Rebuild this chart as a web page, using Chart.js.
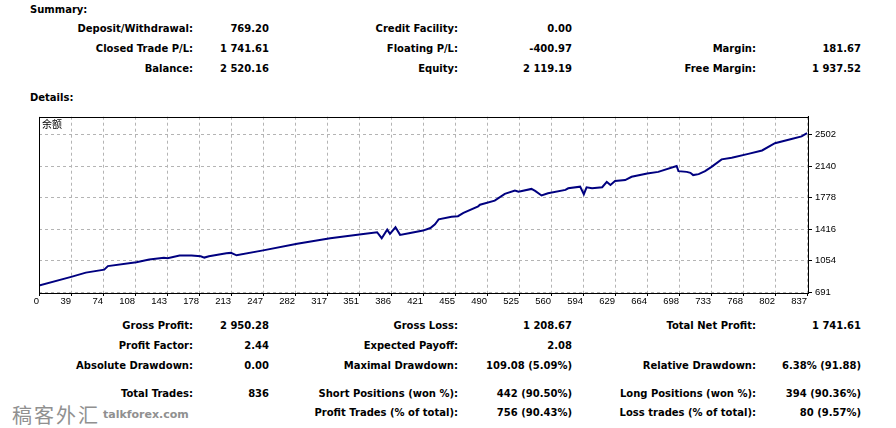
<!DOCTYPE html>
<html>
<head>
<meta charset="utf-8">
<script src="https://cdn.jsdelivr.net/npm/chart.js@4.4.0/dist/chart.umd.min.js"></script>
<style>
  html, body { margin: 0; padding: 0; background: #fff; }
  body { width: 896px; height: 428px; position: relative; overflow: hidden;
         font: bold 10px "DejaVu Sans", sans-serif; color: #000; }
  .r { position: absolute; width: 240px; text-align: right; white-space: nowrap; line-height: 14px; }
  .h { position: absolute; left: 30px; line-height: 14px; white-space: nowrap; }
  #wrap { position: absolute; left: 0; top: 108px; width: 896px; height: 200px; }
  #tag { position: absolute; left: 42px; top: 116px; font: normal 10px "Noto Sans CJK SC", sans-serif; }
  #wm { position: absolute; left: 12px; top: 400px; white-space: nowrap; color: #909090; }
  #wm .cn { font: normal 20px "Noto Sans CJK SC", sans-serif; letter-spacing: 2px; vertical-align: middle; }
  #wm .en { font: bold 11px "DejaVu Sans", sans-serif; vertical-align: middle; margin-left: 3px; }
</style>
</head>
<body>
<div class="h" style="top:3px">Summary:</div>
<div class="h" style="top:91px">Details:</div>

<div id="wrap"><canvas id="balanceChart" width="896" height="200"></canvas></div>
<div id="tag">余额</div>

<div id="wm"><span class="cn">稿客外汇</span><span class="en">talkforex.com</span></div>

<script>
// balance curve (trade number -> balance)
const tradeNo = [0, 35, 51, 71, 75, 106, 120, 136, 140, 153, 166, 176, 180, 185, 204,
  209, 215, 244, 281, 317, 353, 368, 373, 379, 382, 388, 393, 404, 418, 426,
  431, 435, 449, 456, 462, 478, 480, 496, 507, 518, 522, 536, 540, 547, 554,
  573, 576, 589, 593, 596, 602, 613, 618, 622, 627, 638, 645, 662, 674, 694,
  696, 705, 709, 712, 718, 725, 732, 743, 754, 772, 787, 801, 819, 830, 836];
const balance = [769, 868, 917, 951, 992, 1037, 1068, 1087, 1083, 1113, 1113, 1105, 1090, 1105, 1139,
  1144, 1116, 1173, 1249, 1313, 1362, 1381, 1313, 1411, 1362, 1438, 1351, 1373, 1400, 1430,
  1472, 1529, 1558, 1566, 1603, 1679, 1698, 1744, 1823, 1860, 1846, 1879, 1857, 1804, 1830,
  1868, 1886, 1905, 1818, 1898, 1886, 1898, 1959, 1925, 1970, 1981, 2019, 2056, 2075, 2143,
  2083, 2075, 2064, 2038, 2049, 2083, 2132, 2219, 2237, 2282, 2321, 2404, 2452, 2483, 2520];

const xTickLabels = ["0", "39", "74", "108", "143", "178", "213", "247", "282", "317", "351", "386",
  "421", "455", "490", "525", "560", "594", "629", "664", "698", "733", "768", "802", "837"];
const yTickValues = [691, 1054, 1416, 1778, 2140, 2502];

// report text rows: [label, value] for the three column pairs
const summaryRows = [
  [["Deposit/Withdrawal:", "769.20"], ["Credit Facility:", "0.00"], null],
  [["Closed Trade P/L:", "1 741.61"], ["Floating P/L:", "-400.97"], ["Margin:", "181.67"]],
  [["Balance:", "2 520.16"], ["Equity:", "2 119.19"], ["Free Margin:", "1 937.52"]]
];
const detailRows = [
  [["Gross Profit:", "2 950.28"], ["Gross Loss:", "1 208.67"], ["Total Net Profit:", "1 741.61"]],
  [["Profit Factor:", "2.44"], ["Expected Payoff:", "2.08"], null],
  [["Absolute Drawdown:", "0.00"], ["Maximal Drawdown:", "109.08 (5.09%)"], ["Relative Drawdown:", "6.38% (91.88)"]],
  [["Total Trades:", "836"], ["Short Positions (won %):", "442 (90.50%)"], ["Long Positions (won %):", "394 (90.36%)"]],
  [null, ["Profit Trades (% of total):", "756 (90.43%)"], ["Loss trades (% of total):", "80 (9.57%)"]]
];

const colRight = [[193, 269], [458, 572], [756, 861]];

function put(text, right, cy) {
  const d = document.createElement("div");
  d.className = "r";
  d.style.left = (right - 240) + "px";
  d.style.top = (cy - 7) + "px";
  d.textContent = text;
  document.body.appendChild(d);
}

function putRows(rows, centers) {
  rows.forEach((row, i) => {
    row.forEach((pair, c) => {
      if (!pair) return;
      put(pair[0], colRight[c][0], centers[i]);
      put(pair[1], colRight[c][1], centers[i]);
    });
  });
}

putRows(summaryRows, [29, 49, 69]);
putRows(detailRows, [326, 346, 366, 394, 413]);

const frame = {
  id: "frame",
  afterDatasetsDraw(chart) {
    const { ctx, chartArea: a } = chart;
    ctx.save();
    ctx.strokeStyle = "#000";
    ctx.lineWidth = 1;
    ctx.strokeRect(Math.round(a.left) + 0.5, Math.round(a.top) + 0.5,
      Math.round(a.right - a.left), Math.round(a.bottom - a.top));
    ctx.restore();
  }
};

const tickFont = { family: "Liberation Sans", size: 9.5 };

new Chart(document.getElementById("balanceChart").getContext("2d"), {
  type: "line",
  data: {
    datasets: [{
      label: "余额",
      data: tradeNo.map((t, i) => ({ x: t, y: balance[i] })),
      borderColor: "#000080",
      borderWidth: 2,
      pointRadius: 0,
      tension: 0,
      fill: false
    }]
  },
  options: {
    responsive: false,
    animation: false,
    layout: { padding: { left: 39, top: 6, right: 0, bottom: 0 } },
    plugins: { legend: { display: false }, tooltip: { enabled: false } },
    scales: {
      x: {
        type: "linear",
        min: 0,
        max: 837,
        afterBuildTicks: s => { s.ticks = xTickLabels.map((_, k) => ({ value: k * 836 / 24 })); },
        afterFit: s => { s.height = 15; },
        ticks: {
          callback: (v, i) => xTickLabels[i],
          autoSkip: false,
          maxRotation: 0,
          align: "end",
          padding: 0,
          color: "#000",
          font: tickFont
        },
        grid: { color: "#b4b4b4", tickColor: "#000", tickLength: 3 },
        border: { color: "#000", width: 1, dash: [3, 3] }
      },
      y: {
        position: "right",
        min: 683,
        max: 2709,
        afterBuildTicks: s => { s.ticks = yTickValues.map(v => ({ value: v })); },
        afterFit: s => { s.width = 88; },
        ticks: { callback: v => String(v), padding: 3, color: "#000", font: tickFont },
        grid: { color: "#b4b4b4", tickColor: "#000", tickLength: 4 },
        border: { color: "#000", width: 1, dash: [3, 3] }
      }
    }
  },
  plugins: [frame]
});
</script>
</body>
</html>
